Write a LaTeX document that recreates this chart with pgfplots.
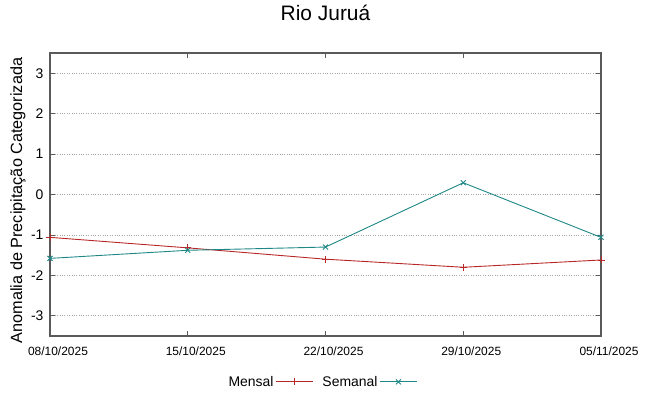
\documentclass[border=0pt]{standalone}
\usepackage{fontspec}
\setmainfont{Liberation Sans}
\usepackage{pgfplots}
\pgfplotsset{compat=1.18}
\definecolor{mensal}{RGB}{185,40,40}
\definecolor{semanal}{RGB}{30,135,135}
\definecolor{axisgray}{RGB}{90,90,90}
\begin{document}
\begin{tikzpicture}
\path[use as bounding box] (0bp,0bp) rectangle (649bp,396bp);
\begin{axis}[
  at={(50bp,60bp)}, anchor=south west,
  scale only axis, width=551bp, height=283bp,
  xmin=0, xmax=4, ymin=-3.5, ymax=3.5,
  xtick={0,1,2,3,4},
  xticklabels={08/10/2025,15/10/2025,22/10/2025,29/10/2025,05/11/2025},
  ytick={-3,-2,-1,0,1,2,3},
  /pgf/number format/assume math mode=true,
  tick align=inside, major tick length=5bp,
  tick style={axisgray, line width=0.8bp},
  axis line style={axisgray, line width=1.2bp},
  ymajorgrids,
  grid style={gray!70, dotted, line width=0.7bp},
  yticklabel style={font=\fontsize{14}{16}\selectfont, xshift=-3bp},
  xticklabel style={font=\fontsize{12}{14}\selectfont, xshift=8bp, yshift=-7bp},
  title={Rio Juruá},
  title style={font=\fontsize{21}{24}\selectfont, anchor=base, at={(0.5,1)}, yshift=27bp},
  ylabel={Anomalia de Precipitação Categorizada},
  ylabel style={font=\fontsize{16.3}{18}\selectfont, at={(axis description cs:-0.058,0.479)}, anchor=center},
  legend style={at={(axis description cs:0.5,-0.162)}, anchor=center, draw=none, fill=none,
    font=\fontsize{14}{16}\selectfont, legend columns=-1},
  legend plot pos=right,
  legend image code/.code={
    \draw[#1, mark repeat=2, mark phase=2] plot coordinates {(6bp,0bp) (24.5bp,0bp) (43bp,0bp)};
    \path (50bp,0bp);
  },
]
\addplot[color=mensal, line width=0.9bp, mark=+, mark size=3.5bp, mark options={mensal, solid}] coordinates {
  (0,-1.06) (1,-1.32) (2,-1.60) (3,-1.80) (4,-1.62)
};
\addlegendentry{Mensal}
\addplot[color=semanal, line width=0.9bp, mark=x, mark size=3.5bp, mark options={semanal, solid}] coordinates {
  (0,-1.58) (1,-1.38) (2,-1.30) (3,0.29) (4,-1.06)
};
\addlegendentry{Semanal}
\end{axis}
\end{tikzpicture}
\end{document}
